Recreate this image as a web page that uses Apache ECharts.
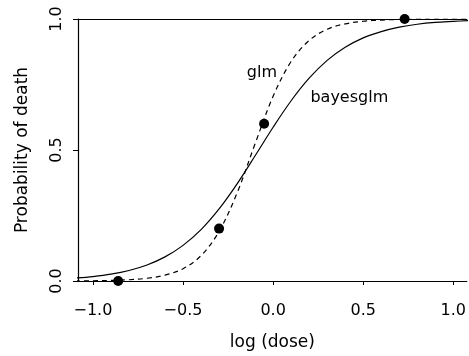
<!DOCTYPE html>
<html>
<head>
<meta charset="utf-8">
<script src="https://cdn.jsdelivr.net/npm/echarts@6/dist/echarts.min.js"></script>
<style>
  html, body { margin: 0; padding: 0; background: #fff; }
  #chart { width: 469px; height: 356px; }
</style>
</head>
<body>
<div id="chart"></div>
<script>
// observed data (log dose, proportion dead)
const logDose = [-0.86, -0.30, -0.05, 0.73];
const deathRate = [0.0, 0.2, 0.6, 1.0];

// fitted curves
const curveX = [-1.1, -1.0, -0.9, -0.8, -0.7, -0.6, -0.5, -0.4, -0.3, -0.2, -0.1,
  0.0, 0.1, 0.2, 0.3, 0.4, 0.5, 0.6, 0.7, 0.8, 0.9, 1.0, 1.1];
const glmY = [0.0005, 0.001, 0.0022, 0.0048, 0.0104, 0.0223, 0.047, 0.097, 0.189, 0.336, 0.524,
  0.705, 0.838, 0.918, 0.961, 0.9815, 0.9914, 0.996, 0.9982, 0.9992, 0.9996, 0.9998, 0.9999];
const bayesY = [0.011, 0.017, 0.026, 0.040, 0.061, 0.092, 0.136, 0.196, 0.275, 0.371, 0.478,
  0.587, 0.688, 0.774, 0.842, 0.892, 0.928, 0.952, 0.969, 0.980, 0.987, 0.991, 0.9945];

const xTicks = [-1.0, -0.5, 0.0, 0.5, 1.0];

const font = "DejaVu Sans";
const chart = echarts.init(document.getElementById("chart"));

const fmt = v => (v < 0 ? "\u2212" : "") + Math.abs(v).toFixed(1);

chart.setOption({
  animation: false,
  backgroundColor: "#fff",
  grid: { left: 78, right: 0, top: 19, bottom: 73 },
  xAxis: [
    {
      type: "value",
      min: -1.083,
      max: 1.075,
      name: "log (dose)",
      nameLocation: "middle",
      nameGap: 53,
      nameTextStyle: { fontFamily: font, fontSize: 17, color: "#000" },
      axisLine: { show: true, onZero: false, lineStyle: { color: "#000", width: 1.2 } },
      axisTick: { show: true, length: 4, customValues: xTicks, lineStyle: { color: "#000" } },
      axisLabel: { customValues: xTicks, margin: 22, fontFamily: font, fontSize: 16, color: "#000", formatter: fmt },
      splitLine: { show: false }
    },
    {
      type: "value",
      position: "top",
      min: -1.083,
      max: 1.075,
      axisLine: { show: true, onZero: false, lineStyle: { color: "#000", width: 1.2 } },
      axisTick: { show: false },
      axisLabel: { show: false },
      splitLine: { show: false }
    }
  ],
  yAxis: {
    type: "value",
    min: 0,
    max: 1,
    interval: 0.5,
    name: "Probability of death",
    nameLocation: "middle",
    nameGap: 47,
    nameTextStyle: { fontFamily: font, fontSize: 17, color: "#000" },
    axisLine: { show: true, onZero: false, lineStyle: { color: "#000", width: 1.2 } },
    axisTick: { show: true, length: 5, lineStyle: { color: "#000" } },
    axisLabel: { rotate: 90, margin: 13, fontFamily: font, fontSize: 16, color: "#000", formatter: fmt },
    splitLine: { show: false }
  },
  series: [
    {
      name: "glm",
      type: "line",
      data: curveX.map((x, i) => [x, glmY[i]]),
      smooth: 0.35,
      symbol: "none",
      lineStyle: { color: "#000", width: 1.2, type: [5, 4] },
      markPoint: {
        symbol: "circle",
        symbolSize: 0,
        data: [{ coord: [-0.062, 0.795], value: "glm" }],
        label: { show: true, position: "inside", formatter: "glm", fontFamily: font, fontSize: 16, color: "#000" }
      }
    },
    {
      name: "bayesglm",
      type: "line",
      data: curveX.map((x, i) => [x, bayesY[i]]),
      smooth: 0.35,
      symbol: "none",
      lineStyle: { color: "#000", width: 1.2 },
      markPoint: {
        symbol: "circle",
        symbolSize: 0,
        data: [{ coord: [0.423, 0.70], value: "bayesglm" }],
        label: { show: true, position: "inside", formatter: "bayesglm", fontFamily: font, fontSize: 16, color: "#000" }
      }
    },
    {
      name: "data",
      type: "scatter",
      data: logDose.map((x, i) => [x, deathRate[i]]),
      symbol: "circle",
      symbolSize: 10,
      itemStyle: { color: "#000", opacity: 1 },
      clip: false,
      z: 5
    }
  ]
});
</script>
</body>
</html>
